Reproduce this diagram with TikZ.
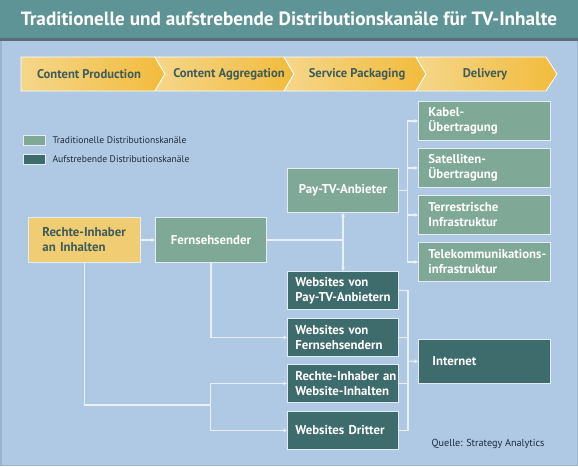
\documentclass[tikz,border=0pt]{standalone}
\usepackage{fontspec}
\setmainfont{PT Sans}
\usetikzlibrary{arrows.meta,calc}
\definecolor{bgblue}{HTML}{AFC8E3}
\definecolor{titleteal}{HTML}{5F9496}
\definecolor{titleline}{HTML}{5D6C79}
\definecolor{tradgreen}{HTML}{7FA996}
\definecolor{newteal}{HTML}{3E6B6B}
\definecolor{rightsyellow}{HTML}{F0CC72}
\definecolor{chevlight}{HTML}{F5D68A}
\definecolor{chevdark}{HTML}{F2BB3B}
\definecolor{darktext}{HTML}{3D5C5B}
\definecolor{linecol}{HTML}{EAF0F7}
\definecolor{boxedge}{HTML}{E4ECF3}
\definecolor{legendtext}{HTML}{1E2B3A}
\definecolor{borderblue}{HTML}{9BB3CC}
\begin{document}
\begin{tikzpicture}[x=1pt,y=-1pt,
  boxbase/.style={draw=boxedge, line width=0.9pt, inner ysep=2pt,
    font=\bfseries\fontsize{12.8}{15}\selectfont, anchor=north west},
  trad/.style={boxbase, fill=tradgreen, text=white},
  emerg/.style={boxbase, fill=newteal, text=white},
  wideleft/.style={inner xsep=10pt, text width=112pt, align=left, minimum height=39pt},
  siteleft/.style={inner xsep=8pt, text width=95pt, align=left, minimum height=38pt},
  conn/.style={draw=linecol, line width=1.1pt},
  arr/.style={conn, -{Stealth[length=4pt,width=4pt]}},
  chev/.style={draw=white, line width=0.8pt, left color=chevlight, right color=chevdark},
  phase/.style={font=\bfseries\fontsize{12.6}{14}\selectfont, text=darktext},
  legbox/.style={draw=boxedge, line width=0.6pt, minimum width=22pt, minimum height=10pt, inner sep=0pt, anchor=north west},
  legtext/.style={anchor=west, font=\fontsize{9.6}{11}\selectfont, text=legendtext}
]
\useasboundingbox (0,0) rectangle (578,466);
\fill[bgblue] (0,0) rectangle (578,466);
\draw[borderblue, line width=1.5pt] (0.75,0.75) rectangle (577.25,465.25);
% title bar
\fill[titleteal] (0,0) rectangle (578,38);
\fill[titleline] (0,38) rectangle (578,41);
\node[font=\bfseries\fontsize{19.2}{22}\selectfont, text=white] (title) at (289,19)
  {Traditionelle und aufstrebende Distributionskanäle für TV-Inhalte};
% phase chevrons
\draw[chev] (21,57) -- (155,57) -- (165,74) -- (155,91) -- (21,91) -- cycle;
\draw[chev] (155,57) -- (284,57) -- (294,74) -- (284,91) -- (155,91) -- (165,74) -- cycle;
\draw[chev] (284,57) -- (416,57) -- (426,74) -- (416,91) -- (284,91) -- (294,74) -- cycle;
\draw[chev] (416,57) -- (546,57) -- (557,74) -- (546,91) -- (416,91) -- (426,74) -- cycle;
\node[phase] (p1) at (89,74) {Content Production};
\node[phase] (p2) at (229,74) {Content Aggregation};
\node[phase] (p3) at (357,74) {Service Packaging};
\node[phase] (p4) at (485,74) {Delivery};
% legend
\node[legbox, fill=tradgreen] (lg1) at (23,135) {};
\node[legtext] (lt1) at (49,140) {Traditionelle Distributionskanäle};
\node[legbox, fill=newteal] (lg2) at (23,154) {};
\node[legtext] (lt2) at (49,159) {Aufstrebende Distributionskanäle};
% boxes
\node[boxbase, fill=rightsyellow, text=darktext, inner xsep=14pt, text width=84pt, align=left, minimum height=45pt] (rechte) at (28,217) {\mbox{Rechte-Inhaber}\\\mbox{an Inhalten}};
\node[trad, inner xsep=8pt, text width=95pt, align=center, minimum height=45pt] (fs) at (155,217) {Fernsehsender};
\node[trad, inner xsep=8pt, text width=95pt, align=center, minimum height=44pt] (paytv) at (287,168) {Pay-TV-Anbieter};
\node[trad, wideleft] (kabel) at (418,101) {\mbox{Kabel-}\\\mbox{Übertragung}};
\node[trad, wideleft] (sat) at (418,148) {\mbox{Satelliten-}\\\mbox{Übertragung}};
\node[trad, wideleft] (terr) at (418,195) {\mbox{Terrestrische}\\\mbox{Infrastruktur}};
\node[trad, wideleft] (tele) at (418,242) {\mbox{Telekommunikations-}\\\mbox{infrastruktur}};
\node[emerg, siteleft] (wpay) at (287,271) {\mbox{Websites von}\\\mbox{Pay-TV-Anbietern}};
\node[emerg, siteleft] (wfs) at (287,318) {\mbox{Websites von}\\\mbox{Fernsehsendern}};
\node[emerg, siteleft] (wrechte) at (287,364) {\mbox{Rechte-Inhaber an}\\\mbox{Website-Inhalten}};
\node[emerg, siteleft] (wdritter) at (287,411) {\mbox{Websites Dritter}};
\node[emerg, inner xsep=14pt, text width=104pt, align=left, minimum height=44pt] (internet) at (418,339) {Internet};
\node[anchor=east, font=\fontsize{10.2}{12}\selectfont, text=legendtext] (src) at (548,444) {Quelle: Strategy Analytics};
% connectors
\draw[arr] (rechte.east) -- (fs.west);
\draw[arr] (fs.east) -| (paytv.south);
\draw[arr] (fs.east) -| (wpay.north);
\draw[arr] (paytv.east) -- ++(9,0) |- (kabel.west);
\draw[arr] (paytv.east) -- ++(9,0) |- (sat.west);
\draw[arr] (paytv.east) -- ++(9,0) |- (terr.west);
\draw[arr] (paytv.east) -- ++(9,0) |- (tele.west);
\draw[arr] (fs.south) |- (wfs.west);
\coordinate (jl) at (210.5,405);
\draw[conn] (rechte.south) |- (jl);
\draw[arr] (jl) |- (wrechte.west);
\draw[arr] (jl) |- (wdritter.west);
\coordinate (jr) at (408,361);
\draw[conn] (wpay.east) -| (jr);
\draw[conn] (wdritter.east) -| (jr);
\draw[conn] (wfs.east) -- (wfs.east -| jr);
\draw[conn] (wrechte.east) -- (wrechte.east -| jr);
\draw[arr] (jr) -- (internet.west);
\end{tikzpicture}
\end{document}
